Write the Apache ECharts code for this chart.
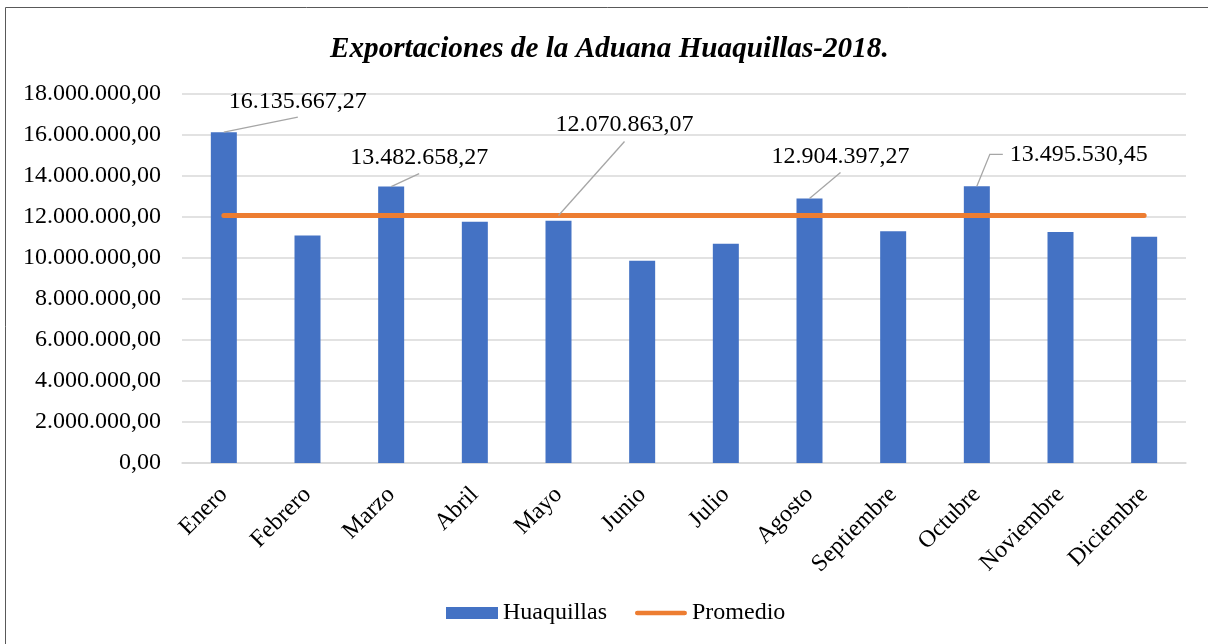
<!DOCTYPE html>
<html>
<head>
<meta charset="utf-8">
<title>Exportaciones de la Aduana Huaquillas-2018</title>
<script src="https://cdn.jsdelivr.net/npm/echarts@6/dist/echarts.min.js"></script>
<style>
  html, body { margin: 0; padding: 0; background: #fff; }
  #chart { width: 1208px; height: 644px; }
</style>
</head>
<body>
<div id="chart"></div>
<script>
"use strict";
// datos
var meses = ['Enero', 'Febrero', 'Marzo', 'Abril', 'Mayo', 'Junio', 'Julio',
  'Agosto', 'Septiembre', 'Octubre', 'Noviembre', 'Diciembre'];
var huaquillas = [16135667.27, 11095000, 13482658.27, 11765000, 11815000, 9870000,
  10690000, 12904397.27, 11300000, 13495530.45, 11265000, 11040000];
var promedio = [12070863.07, 12070863.07, 12070863.07, 12070863.07, 12070863.07, 12070863.07,
  12070863.07, 12070863.07, 12070863.07, 12070863.07, 12070863.07, 12070863.07];
var mesesConEtiqueta = [0, 2, 7, 9];
var mesEtiquetaPromedio = 4;
var ejeY = [0, 2000000, 4000000, 6000000, 8000000, 10000000, 12000000, 14000000, 16000000, 18000000];

var FUENTE = 'Liberation Serif, Times New Roman, serif';
var TAM = 24;

/**
 * formato es: 16.135.667,27
 */
function formatoNumero(v) {
  var partes = Number(v).toFixed(2).split('.');
  partes[0] = partes[0].replace(/\B(?=(\d{3})+(?!\d))/g, '.');
  return partes.join(',');
}

// desplazamiento de cada etiqueta respecto a su posicion por defecto
var desplazBarras = { 0: [74, -14], 2: [28, -12], 7: [31, -25], 9: [102, -15] };
var codoBarras = { 9: true };
var desplazPromedio = [66, -73];

var chart = echarts.init(document.getElementById('chart'));

var borde = {
  id: 'borde',
  type: 'rect',
  shape: { x: 5.5, y: 7.5, width: 1300, height: 700 },
  style: { fill: 'none', stroke: '#595959', lineWidth: 1 },
  silent: true
};

var option = {
  backgroundColor: '#fff',
  textStyle: { fontFamily: FUENTE },
  title: {
    text: 'Exportaciones de la Aduana Huaquillas-2018.',
    left: 325,
    top: 30,
    textStyle: { fontFamily: FUENTE, fontSize: 29.2, fontWeight: 'bold', fontStyle: 'italic', color: '#000' }
  },
  graphic: [borde],
  legend: {
    bottom: 14,
    left: 441,
    itemWidth: 52,
    itemHeight: 12,
    itemGap: 28,
    textStyle: { fontFamily: FUENTE, fontSize: TAM, color: '#000' },
    data: [
      { name: 'Huaquillas', icon: 'rect' },
      { name: 'Promedio', icon: 'path://M2.5,0 L52.5,0 A2.5,2.5 0 0 1 52.5,5 L2.5,5 A2.5,2.5 0 0 1 2.5,0 Z' }
    ]
  },
  grid: { left: 182, right: 22, top: 94, bottom: 181 },
  xAxis: {
    type: 'category',
    data: meses,
    axisTick: { show: false },
    axisLine: { lineStyle: { color: '#D9D9D9', width: 1.5 } },
    axisLabel: { rotate: 45, margin: 28, fontFamily: FUENTE, fontSize: TAM, color: '#000' }
  },
  yAxis: {
    type: 'value',
    min: ejeY[0],
    max: ejeY[ejeY.length - 1],
    interval: ejeY[1] - ejeY[0],
    axisLine: { show: false },
    axisTick: { show: false },
    splitLine: { lineStyle: { color: '#D9D9D9', width: 1.5 } },
    axisLabel: { margin: 21, fontFamily: FUENTE, fontSize: TAM, color: '#000', formatter: formatoNumero }
  },
  series: [{
    name: 'Huaquillas',
    type: 'bar',
    barWidth: 26,
    itemStyle: { color: '#4472C4' },
    data: huaquillas.map(function (v, i) {
      return {
        value: v,
        label: { show: mesesConEtiqueta.indexOf(i) !== -1 }
      };
    }),
    label: {
      position: 'top',
      fontFamily: FUENTE,
      fontSize: TAM,
      color: '#000',
      formatter: function (p) { return formatoNumero(p.value); }
    },
    labelLayout: function (p) {
      var d = desplazBarras[p.dataIndex];
      return d ? { dx: d[0], dy: d[1] } : {};
    },
    z: 2
  }, {
    name: 'Promedio',
    type: 'line',
    symbol: 'none',
    lineStyle: { color: '#ED7D31', width: 5, cap: 'round' },
    itemStyle: { color: '#ED7D31' },
    data: promedio.map(function (v, i) {
      if (i === mesEtiquetaPromedio) {
        return { value: v, symbol: 'circle', symbolSize: 1, label: { show: true } };
      }
      return v;
    }),
    label: {
      show: false,
      position: 'top',
      fontFamily: FUENTE,
      fontSize: TAM,
      color: '#000',
      formatter: function (p) { return formatoNumero(p.value); }
    },
    labelLayout: function (p) {
      return p.dataIndex === mesEtiquetaPromedio ? { dx: desplazPromedio[0], dy: desplazPromedio[1] } : {};
    },
    z: 3
  }]
};

chart.setOption(option);

/**
 * ancho del texto de una etiqueta
 */
function anchoTexto(txt) {
  var ctx = document.createElement('canvas').getContext('2d');
  ctx.font = TAM + 'px ' + FUENTE;
  return ctx.measureText(txt).width;
}

/**
 * linea guia desde el punto de la marca hasta su etiqueta
 */
function lineaGuia(id, serie, i, valor, d, codo) {
  var p = chart.convertToPixel({ seriesIndex: serie }, [i, valor]);
  // centro de la etiqueta (posicion top, distancia 5)
  var cx = p[0] + d[0], cy = p[1] - 5 - TAM / 2 + d[1];
  var puntos;
  if (codo) {
    var izq = cx - anchoTexto(formatoNumero(valor)) / 2;
    puntos = [p, [izq - 20, cy], [izq - 7, cy]];
  } else {
    puntos = [p, [cx, cy + TAM / 2 + 4]];
  }
  return {
    id: id,
    type: 'polyline',
    shape: { points: puntos },
    style: { stroke: '#A6A6A6', lineWidth: 1.3, fill: null },
    silent: true,
    z: 10
  };
}

var guias = [borde];
mesesConEtiqueta.forEach(function (i) {
  guias.push(lineaGuia('guia' + i, 0, i, huaquillas[i], desplazBarras[i], codoBarras[i]));
});
guias.push(lineaGuia('guiaProm', 1, mesEtiquetaPromedio, promedio[mesEtiquetaPromedio], desplazPromedio, false));
chart.setOption({ graphic: guias });
</script>
</body>
</html>
